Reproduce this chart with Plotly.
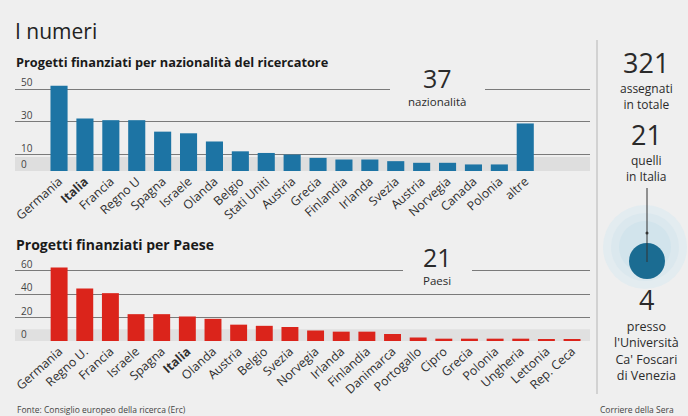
import plotly.graph_objects as go

# ---------------- data ----------------
naz_categories = ["Germania", "Italia", "Francia", "Regno U", "Spagna", "Israele", "Olanda",
                  "Belgio", "Stati Uniti", "Austria", "Grecia", "Finlandia", "Irlanda", "Svezia",
                  "Austria ", "Norvegia", "Canada", "Polonia", "altre"]
naz_values = [52, 32, 31, 31, 24, 23, 18, 12, 11, 10, 8, 7, 7, 6, 5, 5, 4, 4, 29]

paese_categories = ["Germania", "Regno U.", "Francia", "Israele", "Spagna", "Italia", "Olanda",
                    "Austria", "Belgio", "Svezia", "Norvegia", "Irlanda", "Finlandia", "Danimarca",
                    "Portogallo", "Cipro", "Grecia", "Polonia", "Ungheria", "Lettonia", "Rep. Ceca"]
paese_values = [63, 45, 41, 23, 23, 21, 19, 14, 13, 12, 9, 8, 8, 6, 3, 2, 2, 2, 2, 1, 1]

naz_ticks = [0, 10, 30, 50]
paese_ticks = [0, 20, 40, 60]

# ---------------- layout helpers ----------------
W, H = 688, 416
def fx(p):
    return p / W
def fy(p):
    return 1 - p / H

BG = "#efefef"
BLUE = "#1d74a4"
RED = "#db241b"
TXT = "#2b2b2b"
GRID = "#7a7a7a"
FONT = "Open Sans"

def ticktext(cats):
    return ["<b>%s</b>" % c.strip() if c.strip() == "Italia" else c.strip() for c in cats]

fig = go.Figure()
fig.add_trace(go.Bar(x=naz_categories, y=naz_values, marker_color=BLUE,
                     marker_line_width=0, xaxis="x", yaxis="y", hoverinfo="skip"))
fig.add_trace(go.Bar(x=paese_categories, y=paese_values, marker_color=RED,
                     marker_line_width=0, xaxis="x2", yaxis="y2", hoverinfo="skip"))

axis_common = dict(showline=False, zeroline=False, ticks="", automargin=False, fixedrange=True)

fig.update_layout(
    width=W, height=H,
    margin=dict(l=0, r=0, t=0, b=0),
    paper_bgcolor=BG, plot_bgcolor=BG,
    template="none",
    showlegend=False,
    bargap=0.34,
    font=dict(family=FONT, color=TXT),
    xaxis=dict(domain=[fx(15), fx(590)], anchor="y", range=[-1.7, 20.5], type="category",
               tickvals=naz_categories, ticktext=ticktext(naz_categories), tickangle=-42,
               tickfont=dict(size=12.3, color="#2e2e2e", family=FONT), showgrid=False, **axis_common),
    yaxis=dict(domain=[fy(171), fy(80)], anchor="x", range=[0, 55.5],
               tickvals=[t for t in naz_ticks if t > 0], showticklabels=False,
               showgrid=True, gridcolor=GRID, gridwidth=1, **axis_common),
    xaxis2=dict(domain=[fx(15), fx(590)], anchor="y2", range=[-1.72, 20.7], type="category",
                tickvals=paese_categories, ticktext=ticktext(paese_categories), tickangle=-42,
                tickfont=dict(size=12.3, color="#2e2e2e", family=FONT), showgrid=False, **axis_common),
    yaxis2=dict(domain=[fy(341), fy(262)], anchor="x2", range=[0, 67.7],
                tickvals=[t for t in paese_ticks if t > 0], showticklabels=False,
                showgrid=True, gridcolor=GRID, gridwidth=1, **axis_common),
)

shapes = []
# light grey bands just above the baselines
shapes.append(dict(type="rect", xref="paper", yref="y", x0=fx(15), x1=fx(590), y0=0, y1=8.5,
                   fillcolor="#dedede", line_width=0, layer="below"))
shapes.append(dict(type="rect", xref="paper", yref="y2", x0=fx(15), x1=fx(590), y0=0, y1=10,
                   fillcolor="#e0e0e0", line_width=0, layer="below"))
# masks breaking the top gridline behind the big numbers
shapes.append(dict(type="rect", xref="paper", yref="y", x0=fx(390), x1=fx(485), y0=47, y1=53,
                   fillcolor=BG, line_width=0, layer="above"))
shapes.append(dict(type="rect", xref="paper", yref="y2", x0=fx(403), x1=fx(472), y0=57, y1=63,
                   fillcolor=BG, line_width=0, layer="above"))
# vertical separator
shapes.append(dict(type="line", xref="paper", yref="paper", x0=fx(597), x1=fx(597),
                   y0=fy(40), y1=fy(394), line=dict(color="#b5b5b5", width=1)))
# circles in the right panel
cx, cy = 645, 247
for r, col in [(42, "#e3ecf0"), (34, "#dbe8ee"), (26, "#d2e4ec")]:
    shapes.append(dict(type="circle", xref="paper", yref="paper",
                       x0=fx(cx - r), x1=fx(cx + r), y0=fy(cy + r), y1=fy(cy - r),
                       fillcolor=col, line_width=0, layer="above"))
dcx, dcy, dr = 647, 261, 18
shapes.append(dict(type="circle", xref="paper", yref="paper",
                   x0=fx(dcx - dr), x1=fx(dcx + dr), y0=fy(dcy + dr), y1=fy(dcy - dr),
                   fillcolor="#1b6c92", line_width=0, layer="above"))
shapes.append(dict(type="line", xref="paper", yref="paper", x0=fx(647), x1=fx(647),
                   y0=fy(188), y1=fy(262), line=dict(color="#333333", width=1), layer="above"))
shapes.append(dict(type="circle", xref="paper", yref="paper",
                   x0=fx(645.5), x1=fx(648.5), y0=fy(234.5), y1=fy(231.5),
                   fillcolor="#333333", line_width=0, layer="above"))
fig.update_layout(shapes=shapes)

ann = []
def text(x, y, s, size, anchor="center", color=TXT, family=FONT, yanchor="middle"):
    ann.append(dict(xref="paper", yref="paper", x=fx(x), y=fy(y), text=s, showarrow=False,
                    xanchor=anchor, yanchor=yanchor, font=dict(size=size, color=color, family=family)))

text(13, 31, "I numeri", 21, anchor="left", color="#222222")
text(14, 62, "<b>Progetti finanziati per nazionalità del ricercatore</b>", 12.8, anchor="left",
     color="#1a1a1a")
text(14, 244, "<b>Progetti finanziati per Paese</b>", 14, anchor="left", color="#1a1a1a")

# y tick labels sitting on the gridlines
for t in naz_ticks:
    ann.append(dict(xref="paper", yref="y", x=fx(19), y=t, text=str(t), showarrow=False,
                    xanchor="left", yanchor="bottom", yshift=-2,
                    font=dict(size=10, color="#444444", family=FONT)))
for t in paese_ticks:
    ann.append(dict(xref="paper", yref="y2", x=fx(19), y=t, text=str(t), showarrow=False,
                    xanchor="left", yanchor="bottom", yshift=-2,
                    font=dict(size=10, color="#444444", family=FONT)))

text(437, 78, "37", 25, color="#2a2a2a")
text(437, 101, "nazionalità", 11.5)
text(437, 257, "21", 25, color="#2a2a2a")
text(437, 280, "Paesi", 11.5)

# right panel
text(646, 62, "321", 27, color="#2a2a2a")
text(646, 96, "assegnati<br>in totale", 12)
text(646, 134, "21", 27, color="#2a2a2a")
text(646, 168, "quelli<br>in Italia", 12)
text(646, 299, "4", 27, color="#2a2a2a")
text(646, 351, "presso<br>l'Università<br>Ca' Foscari<br>di Venezia", 12.5)

text(15, 409, "Fonte: Consiglio europeo della ricerca (Erc)", 8.5, anchor="left", color="#444444")
text(598, 409, "Corriere della Sera", 8.5, anchor="left", color="#444444")

fig.update_layout(annotations=ann)
fig.write_html("out.html")
